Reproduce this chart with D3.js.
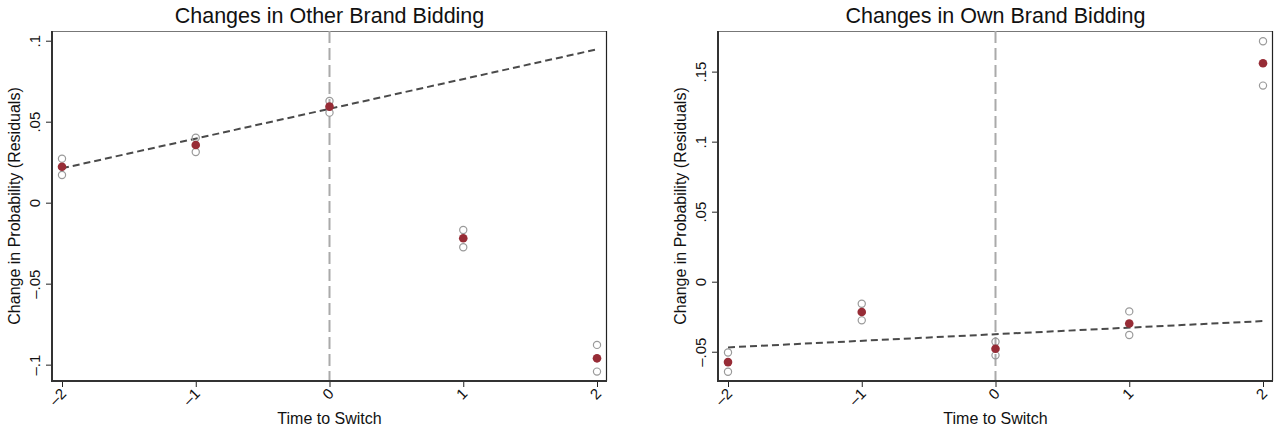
<!DOCTYPE html>
<html>
<head>
<meta charset="utf-8">
<script src="https://cdn.jsdelivr.net/npm/d3@7"></script>
<style>
html,body{margin:0;padding:0;background:#fff;}
svg{display:block;font-family:"Liberation Sans",Arial,Helvetica,sans-serif;}
</style>
</head>
<body>
<svg id="chart" width="1287" height="430"></svg>
<script>
// ---- data ----
const timeToSwitch = [-2, -1, 0, 1, 2];
const xTicks = [-2, -1, 0, 1, 2];

// Left panel: Changes in Other Brand Bidding
const otherMean  = [0.0222, 0.0356, 0.0593, -0.0220, -0.0961];
const otherUpper = [0.0272, 0.0401, 0.0628, -0.0169, -0.0878];
const otherLower = [0.0171, 0.0313, 0.0556, -0.0275, -0.1043];
const otherFit   = [[-2, 0.0212], [2, 0.0947]];
const otherYTicks = [-0.1, -0.05, 0, 0.05, 0.1];
const otherYLabels = ["\u2013.1", "\u2013.05", "0", ".05", ".1"];

// Right panel: Changes in Own Brand Bidding
const ownMean  = [-0.0574, -0.0216, -0.0479, -0.0298, 0.1560];
const ownUpper = [-0.0505, -0.0157, -0.0429, -0.0212, 0.1717];
const ownLower = [-0.0643, -0.0276, -0.0526, -0.0381, 0.1400];
const ownFit   = [[-2, -0.0469], [2, -0.0281]];
const ownYTicks = [-0.05, 0, 0.05, 0.1, 0.15];
const ownYLabels = ["\u2013.05", "0", ".05", ".1", ".15"];

const xLabels = ["\u20132", "\u20131", "0", "1", "2"];

const panels = [
  {title: "Changes in Other Brand Bidding", mean: otherMean, upper: otherUpper, lower: otherLower,
   fit: otherFit, yTicks: otherYTicks, yLabels: otherYLabels, yDomain: [-0.1101, 0.106],
   left: 52, right: 607, top: 31, bottom: 381, ytitleX: 20},
  {title: "Changes in Own Brand Bidding", mean: ownMean, upper: ownUpper, lower: ownLower,
   fit: ownFit, yTicks: ownYTicks, yLabels: ownYLabels, yDomain: [-0.0709, 0.179],
   left: 718, right: 1273, top: 31, bottom: 381, ytitleX: 686}
];

const svg = d3.select("#chart");

panels.forEach(p => {
  const g = svg.append("g");
  // x: -2 at left+10, 2 at right-10
  const x = d3.scaleLinear().domain([-2, 2]).range([p.left + 10, p.right - 10]);
  const y = d3.scaleLinear().domain(p.yDomain).range([p.bottom, p.top]);

  // plot border: top & right thin
  g.append("line").attr("x1", p.left).attr("x2", p.right).attr("y1", p.top + 0.5).attr("y2", p.top + 0.5)
    .attr("stroke", "#777").attr("stroke-width", 1);
  g.append("line").attr("x1", p.right - 0.5).attr("x2", p.right - 0.5).attr("y1", p.top).attr("y2", p.bottom)
    .attr("stroke", "#222").attr("stroke-width", 1.2);

  // vertical reference line at 0
  g.append("line").attr("x1", x(0)).attr("x2", x(0)).attr("y1", p.top).attr("y2", p.bottom)
    .attr("stroke", "#aaa").attr("stroke-width", 2).attr("stroke-dasharray", "12,5");

  // y axis
  const yAxis = d3.axisLeft(y).tickValues(p.yTicks).tickSize(6).tickPadding(6)
    .tickFormat((d, i) => p.yLabels[i]);
  const ya = g.append("g").attr("transform", `translate(${p.left},0)`).call(yAxis);
  ya.select(".domain").remove();
  ya.selectAll(".tick line").attr("stroke", "#222").attr("stroke-width", 1);
  ya.selectAll(".tick text")
    .attr("font-size", 15).attr("fill", "#111")
    .attr("font-family", "Liberation Sans, Arial, sans-serif")
    .attr("text-anchor", "middle").attr("dy", 0)
    .attr("transform", "rotate(-90)")
    .attr("x", 0).attr("y", 0)
    .each(function(d) {
      // after rotate(-90): text x -> -screenY, text y -> screenX
      const sel = d3.select(this);
      sel.attr("transform", `translate(-12,0) rotate(-90)`);
    });
  ya.append("line").attr("x1", 0).attr("x2", 0).attr("y1", p.top).attr("y2", p.bottom + 1)
    .attr("stroke", "#333").attr("stroke-width", 2);

  // x axis
  const xAxis = d3.axisBottom(x).tickValues(xTicks).tickSize(6).tickFormat((d, i) => xLabels[i]);
  const xa = g.append("g").attr("transform", `translate(0,${p.bottom})`).call(xAxis);
  xa.select(".domain").remove();
  xa.selectAll(".tick line").attr("stroke", "#222").attr("stroke-width", 1);
  xa.selectAll(".tick text")
    .attr("font-size", 15).attr("fill", "#111")
    .attr("font-family", "Liberation Sans, Arial, sans-serif")
    .attr("text-anchor", "end").attr("x", 0).attr("y", 0).attr("dy", "0.35em")
    .attr("transform", "translate(1,10) rotate(-45)");
  xa.append("line").attr("x1", p.left - 1).attr("x2", p.right).attr("y1", 0).attr("y2", 0)
    .attr("stroke", "#333").attr("stroke-width", 2);

  // fit line
  g.append("path").datum(p.fit)
    .attr("d", d3.line().x(d => x(d[0])).y(d => y(d[1])))
    .attr("fill", "none").attr("stroke", "#4a4a4a").attr("stroke-width", 2)
    .attr("stroke-dasharray", "7,4");

  // CI circles
  const pts = g.append("g");
  timeToSwitch.forEach((t, i) => {
    [p.upper[i], p.lower[i]].forEach(v => {
      pts.append("circle").attr("cx", x(t)).attr("cy", y(v)).attr("r", 3.6)
        .attr("fill", "none").attr("stroke", "#9a9a9a").attr("stroke-width", 1.2);
    });
  });
  timeToSwitch.forEach((t, i) => {
    pts.append("circle").attr("cx", x(t)).attr("cy", y(p.mean[i])).attr("r", 4.3)
      .attr("fill", "#972c36");
  });

  // titles
  const cx = (p.left + p.right) / 2;
  g.append("text").attr("x", cx).attr("y", 23).attr("text-anchor", "middle")
    .attr("font-size", 21.5).attr("fill", "#111").text(p.title);
  g.append("text").attr("x", cx).attr("y", 424).attr("text-anchor", "middle")
    .attr("font-size", 16).attr("fill", "#111").text("Time to Switch");
  g.append("text").attr("transform", `translate(${p.ytitleX},${(p.top + p.bottom) / 2}) rotate(-90)`)
    .attr("text-anchor", "middle").attr("font-size", 16).attr("fill", "#111")
    .text("Change in Probability (Residuals)");
});
</script>
</body>
</html>
